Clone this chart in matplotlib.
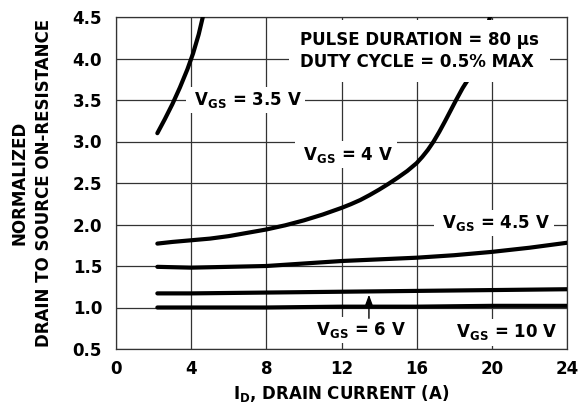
import matplotlib
matplotlib.use("Agg")
import matplotlib.pyplot as plt

plt.rcParams['font.family'] = ['DejaVu Sans']
plt.rcParams['font.weight'] = 'bold'
plt.rcParams['mathtext.fontset'] = 'dejavusans'

# curves
vgs35_x = [2.2, 2.6, 3.0, 3.4, 3.8, 4.1, 4.4, 4.62]
vgs35_y = [3.10, 3.27, 3.45, 3.65, 3.87, 4.06, 4.29, 4.50]

vgs4_x = [2.2, 3, 4, 5, 6, 7, 8, 9, 10, 11, 12, 12.5, 13, 13.5, 14, 14.5, 15,
          15.5, 16, 16.3, 16.6, 16.9, 17.2, 17.5, 17.8, 18.1, 18.45, 18.83,
          19.2, 19.6, 19.9]
vgs4_y = [1.77, 1.79, 1.81, 1.83, 1.86, 1.90, 1.94, 1.99, 2.05, 2.12, 2.20, 2.245,
          2.295, 2.355, 2.42, 2.49, 2.565, 2.645, 2.74, 2.815, 2.90, 3.00, 3.115,
          3.24, 3.37, 3.50, 3.645, 3.78, 3.98, 4.25, 4.50]

vgs45_x = [2.2, 4, 6, 8, 10, 12, 14, 16, 18, 20, 22, 24]
vgs45_y = [1.49, 1.48, 1.49, 1.50, 1.53, 1.56, 1.58, 1.60, 1.63, 1.67, 1.72, 1.78]

vgs6_x = [2.2, 4, 8, 12, 16, 20, 24]
vgs6_y = [1.17, 1.17, 1.18, 1.19, 1.20, 1.21, 1.22]

vgs10_x = [2.2, 8, 12, 16, 20, 24]
vgs10_y = [1.00, 1.00, 1.01, 1.01, 1.02, 1.02]

x_ticks = [0, 4, 8, 12, 16, 20, 24]
y_ticks = [0.5, 1.0, 1.5, 2.0, 2.5, 3.0, 3.5, 4.0, 4.5]

fig = plt.figure(figsize=(5.85, 4.08), dpi=100)
ax = fig.add_axes([116 / 585, 59 / 408, 451 / 585, 332 / 408])

fs = 12
ink = 'black'

ax.set_xlim(0, 24)
ax.set_ylim(0.5, 4.5)
ax.set_xticks(x_ticks)
ax.set_yticks(y_ticks)
ax.set_xticklabels([str(v) for v in x_ticks], fontweight='bold')
ax.set_yticklabels(['%.1f' % v for v in y_ticks], fontweight='bold')
ax.tick_params(length=0, labelsize=fs)
ax.tick_params(axis='y', pad=10)
ax.tick_params(axis='x', pad=8)
ax.grid(True, color='#333333', lw=0.9)
ax.set_axisbelow(True)
for s in ax.spines.values():
    s.set_color('#333333')
    s.set_linewidth(0.9)

lw = 3.0
for xs, ys in [(vgs35_x, vgs35_y), (vgs4_x, vgs4_y), (vgs45_x, vgs45_y),
               (vgs6_x, vgs6_y), (vgs10_x, vgs10_y)]:
    ax.plot(xs, ys, color=ink, lw=lw, solid_capstyle='round',
            solid_joinstyle='round', zorder=3)

box = dict(boxstyle='square,pad=0.2', fc='white', ec='none')


def vlabel(x, y, val):
    ax.text(x, y, ' $\\mathbf{V_{GS}}$ = %s V ' % val, fontsize=fs,
            fontweight='bold', ha='left', va='center', bbox=box, zorder=4)


vlabel(3.9, 3.5, '3.5')
vlabel(9.7, 2.84, '4')
vlabel(17.1, 2.02, '4.5')
vlabel(10.4, 0.73, '6')
vlabel(17.85, 0.70, '10')

ax.text(9.79, 4.09, 'PULSE DURATION = 80 \u03bcs\nDUTY CYCLE = 0.5% MAX',
        fontsize=fs, fontweight='bold', ha='left', va='center', linespacing=1.25,
        bbox=dict(boxstyle='square,pad=0.65', fc='white', ec='none'), zorder=4)

ax.annotate('', xy=(13.46, 1.155), xytext=(13.46, 0.87),
            arrowprops=dict(arrowstyle='-|>,head_length=0.6,head_width=0.22',
                            color=ink, lw=1.0, shrinkA=0, shrinkB=0), zorder=5)

fig.text(341.5 / 585, 14 / 408, '$\\mathbf{I_D}$, DRAIN CURRENT (A)', fontsize=fs,
         fontweight='bold', ha='center', va='center')
fig.text(32 / 585, 225 / 408, 'NORMALIZED\nDRAIN TO SOURCE ON-RESISTANCE',
         fontsize=fs, fontweight='bold', rotation=90, ha='center', va='center',
         multialignment='center', linespacing=1.45)

fig.savefig('out.png', dpi=100)
